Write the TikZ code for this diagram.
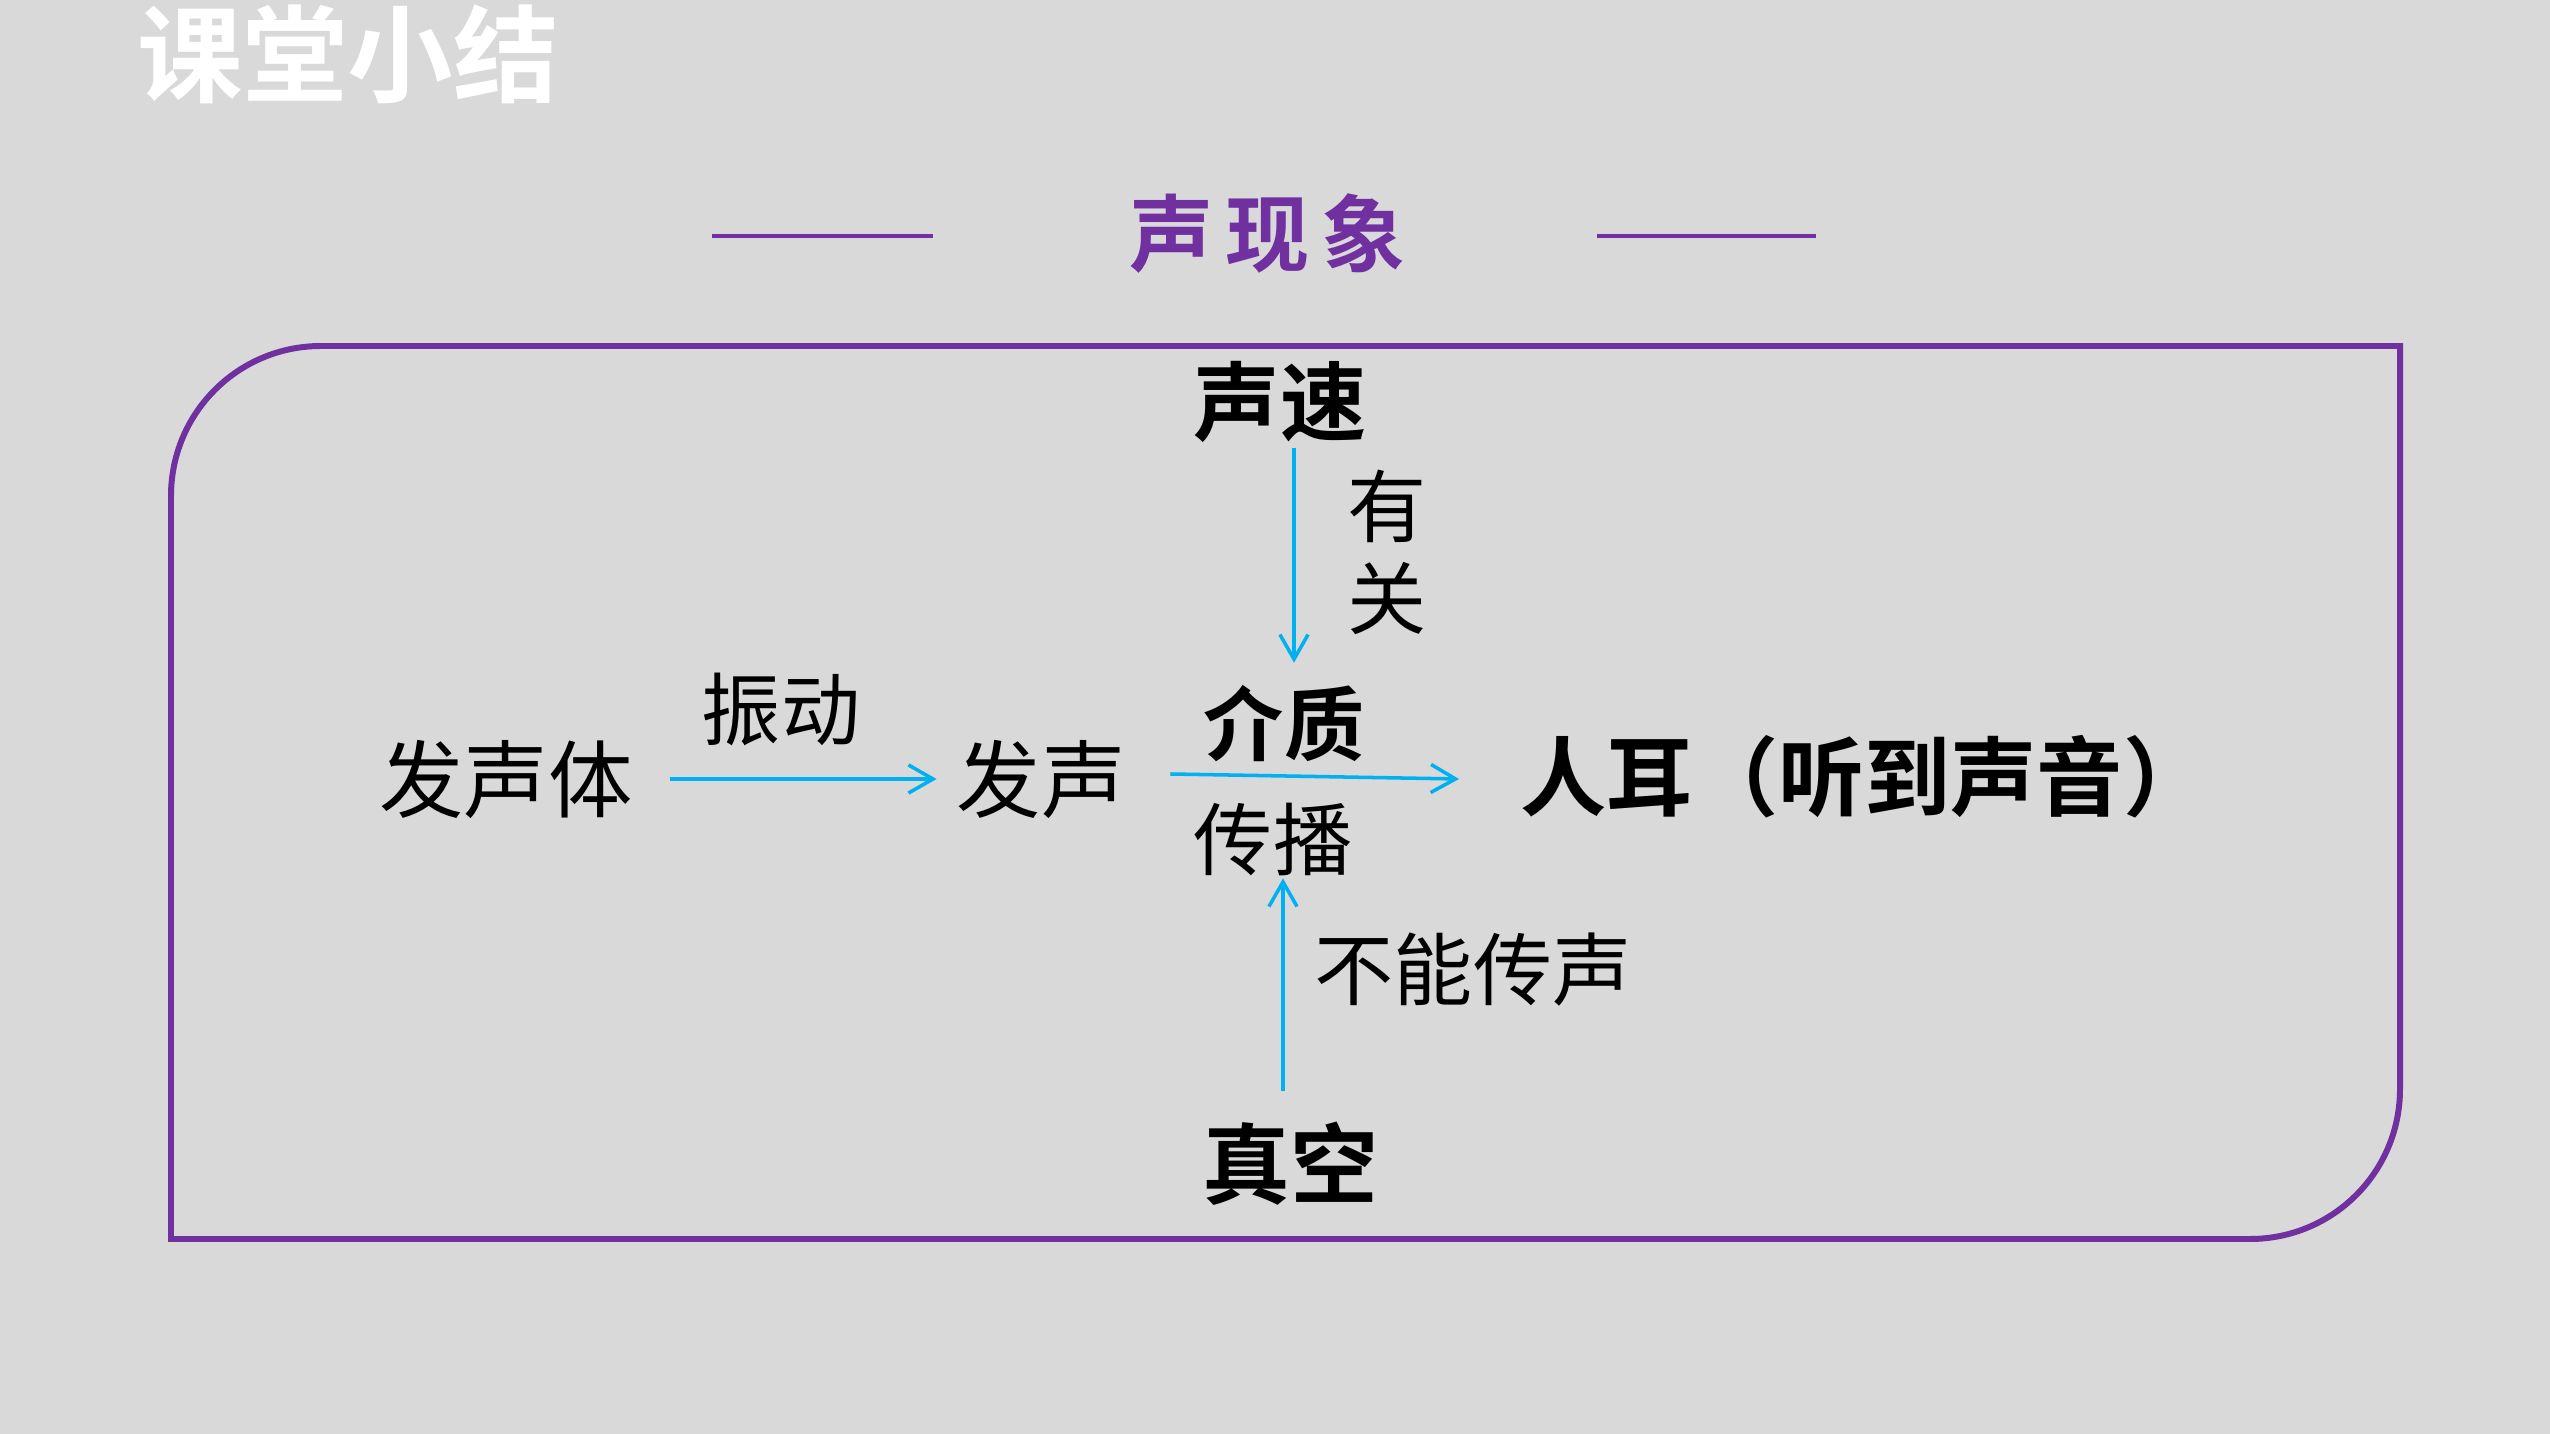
\documentclass[tikz,border=0pt]{standalone}
\usepackage{fontspec}
\usepackage{xcolor}
\usepackage{tikz}
\usetikzlibrary{calc,arrows.meta}
\newfontfamily\cjk[BoldFont={* Bold}]{Noto Sans CJK SC}
\definecolor{zi}{HTML}{7030A0}
\definecolor{lan}{HTML}{00B0F0}
\definecolor{hui}{HTML}{D9D9D9}

\begin{document}
\begin{tikzpicture}[x=0.01cm,y=-0.01cm,
  every node/.style={inner sep=0pt,outer sep=0pt},
  jian/.style={lan,line width=1pt,-{Straight Barb[length=7pt,width=8pt]}},
  zhong/.style={font=\cjk\fontsize{22.5}{26.2}\selectfont},
  da/.style={font=\cjk\fontsize{24}{28}\selectfont},
  cu/.style={font=\cjk\bfseries\fontsize{24.5}{28}\selectfont}]
\fill[hui] (0,0) rectangle (2550,1434);
\useasboundingbox (0,0) rectangle (2550,1434);
% title
\node[font=\cjk\bfseries\fontsize{30}{34}\selectfont,white] (biaoti) at (348,54) {课堂小结};
\node[font=\cjk\bfseries\fontsize{23.9}{28}\selectfont,zi] (zhuti) at (1268,234) {声\hspace{3.4pt}现\hspace{3.4pt}象};
\draw[zi,line width=1pt] (712,236)--(933,236);
\draw[zi,line width=1pt] (1597,236)--(1816,236);
% frame
\draw[zi,line width=1.7pt] (171,496) .. controls (171,413) and (238,346) .. (321,346)
  -- (2400,346) -- (2400,1089) .. controls (2400,1172) and (2333,1239) .. (2250,1239)
  -- (171,1239) -- cycle;
% words
\node[cu] (ss) at (1280,402) {声速};
\node[zhong,align=center] (yg) at (1387,552) {有\\关};
\node[da] (fst) at (506,779) {发声体};
\node[zhong] (zd) at (781,710) {振动};
\node[da] (fs) at (1041,779) {发声};
\node[cu,font=\cjk\bfseries\fontsize{22.8}{26}\selectfont] (jz) at (1284,724) {介质};
\node[zhong] (cb) at (1273,840) {传播};
\node[cu,anchor=west] (ren) at (1520,777) {人耳（听到声音）};
\node[zhong] (bn) at (1473,970) {不能传声};
\node[cu,font=\cjk\bfseries\fontsize{25}{28}\selectfont] (zk) at (1290,1164) {真空};
% arrows
\draw[jian] ($(fst.east)+(37,0)$) -- ($(fs.west)+(-20,0)$);
\draw[jian] ($(fs.east)+(45,-5)$) -- ($(ren.west)+(-61,2)$);
\draw[jian] ($(ss.south)+(14,5)$) -- ($(jz.north)+(10,-23)$);
\draw[jian] ($(zk.north)+(-7,-31)$) -- ($(cb.south)+(10,2)$);
\end{tikzpicture}
\end{document}
